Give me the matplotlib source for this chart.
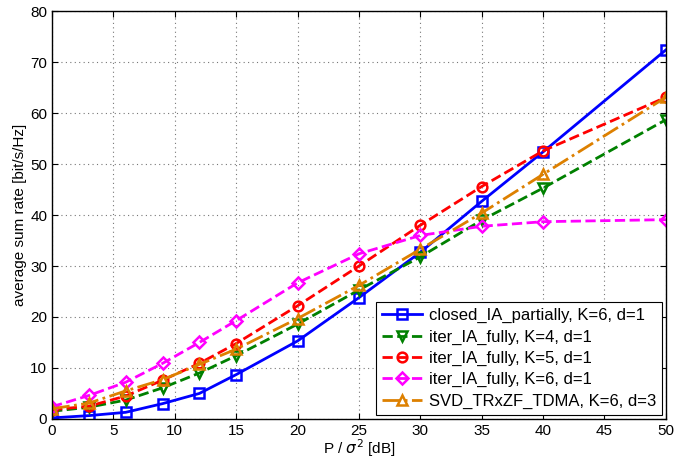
import matplotlib
matplotlib.use('Agg')
import matplotlib.pyplot as plt

# ── data ────────────────────────────────────────────────────────
SNR_DB = [0, 3, 6, 9, 12, 15, 20, 25, 30, 35, 40, 50]

CLOSED_K6 = [0.2, 0.65, 1.3, 3.0, 5.0, 8.7, 15.3, 23.8, 32.7, 42.7, 52.4, 72.4]
ITER_K4   = [1.5, 2.3, 3.7, 6.1, 9.0, 12.4, 18.6, 25.3, 31.8, 39.0, 45.3, 58.7]
ITER_K5   = [1.8, 2.5, 4.5, 7.6, 10.9, 14.8, 22.2, 30.0, 38.0, 45.6, 52.6, 63.1]
ITER_K6   = [2.4, 4.6, 7.2, 10.9, 15.0, 19.3, 26.7, 32.4, 36.0, 37.8, 38.7, 39.1]
SVD_K6    = [2.0, 3.1, 5.5, 7.7, 10.7, 13.7, 19.7, 26.2, 33.3, 40.4, 48.0, 63.1]

LABELS = ["closed_IA_partially, K=6, d=1",
          "iter_IA_fully, K=4, d=1",
          "iter_IA_fully, K=5, d=1",
          "iter_IA_fully, K=6, d=1",
          "SVD_TRxZF_TDMA, K=6, d=3"]

plt.rcParams['font.family'] = ['Liberation Sans', 'DejaVu Sans']
plt.rcParams['xtick.direction'] = 'in'
plt.rcParams['ytick.direction'] = 'in'

fig = plt.figure(figsize=(6.76, 4.66), dpi=100)
ax = fig.add_axes([0.077, 0.101, 0.908, 0.875])

style = dict(lw=2.0, ms=7, mew=1.8, mfc='none')
ax.plot(SNR_DB, CLOSED_K6, '-', marker='s', color='#0000ff', label=LABELS[0], **style)
ax.plot(SNR_DB, ITER_K4, '--', marker='v', color='#008000', label=LABELS[1], **style)
ax.plot(SNR_DB, ITER_K5, '--', marker='o', color='#ff0000', label=LABELS[2], **style)
ax.plot(SNR_DB, ITER_K6, '--', marker='D', color='#ff00ff', label=LABELS[3],
        lw=2.0, ms=6, mew=1.8, mfc='none')
ax.plot(SNR_DB, SVD_K6, '-.', marker='^', color='#dd8000', label=LABELS[4], **style)

ax.set_xlim(0, 50)
ax.set_ylim(0, 80)
ax.set_xticks(range(0, 51, 5))
ax.set_yticks(range(0, 81, 10))
ax.tick_params(labelsize=11, top=True, right=True, length=4)
ax.grid(True, linestyle=(0, (1, 3)), color='#777777', linewidth=0.8)
for s in ax.spines.values():
    s.set_linewidth(1.0)

ax.set_xlabel(r'P / $\sigma^2$ [dB]', fontsize=11, labelpad=0)
ax.set_ylabel('average sum rate [bit/s/Hz]', fontsize=11, labelpad=2)

leg = ax.legend(loc='lower right', fontsize=12, fancybox=False, framealpha=1,
                edgecolor='black', borderaxespad=0.25, handlelength=2.4,
                handletextpad=0.4, labelspacing=0.38, borderpad=0.35)
leg.get_frame().set_linewidth(0.8)

fig.savefig('out.png', dpi=100)
